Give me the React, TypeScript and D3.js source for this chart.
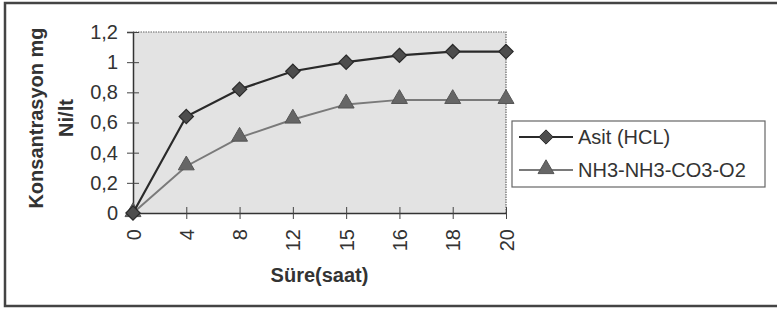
import React, { useRef, useEffect } from "react";
import * as d3 from "d3";

// Süre (saat) categories and the two series
const hours = ["0", "4", "8", "12", "15", "16", "18", "20"];
const asitValues = [0, 0.64, 0.82, 0.94, 1.0, 1.045, 1.07, 1.07];
const nh3Values = [0, 0.31, 0.5, 0.62, 0.72, 0.75, 0.75, 0.75];
const yTicks = [0, 0.2, 0.4, 0.6, 0.8, 1, 1.2];
const seriesNames = ["Asit (HCL)", "NH3-NH3-CO3-O2"];

const W = 777;
const H = 310;
const plot = { left: 133, right: 506, top: 32, bottom: 213 };
const font = "'Liberation Sans', Arial, sans-serif";

const App = () => {
  const svgRef = useRef<SVGSVGElement>(null);

  useEffect(() => {
    const svg = d3.select(svgRef.current);
    svg.selectAll("*").remove();

    const x = d3.scalePoint().domain(hours).range([plot.left, plot.right]);
    const y = d3.scaleLinear().domain([0, 1.2]).range([plot.bottom, plot.top]);

    // outer frame (right side runs off the picture)
    svg
      .append("rect")
      .attr("x", 5)
      .attr("y", 3)
      .attr("width", 800)
      .attr("height", 303)
      .attr("fill", "#fff")
      .attr("stroke", "#444")
      .attr("stroke-width", 2.5);

    // plot area
    svg
      .append("rect")
      .attr("x", plot.left)
      .attr("y", plot.top)
      .attr("width", plot.right - plot.left)
      .attr("height", plot.bottom - plot.top)
      .attr("fill", "#e3e3e3");

    svg
      .append("path")
      .attr("d", `M${plot.left},${plot.top}H${plot.right}V${plot.bottom}`)
      .attr("fill", "none")
      .attr("stroke", "#666")
      .attr("stroke-width", 1.2)
      .attr("stroke-dasharray", "1.5,1");

    // y axis
    const yAxis = d3
      .axisLeft(y)
      .tickValues(yTicks)
      .tickSize(6)
      .tickPadding(9)
      .tickFormat((d) => d3.format("~g")(d as number).replace(".", ","));
    const gy = svg
      .append("g")
      .attr("transform", `translate(${plot.left},0)`)
      .call(yAxis);
    gy.select(".domain").attr("stroke", "#333").attr("stroke-width", 1.5);
    gy.selectAll(".tick line").attr("x1", 6).attr("stroke", "#444");
    gy.selectAll(".tick text")
      .attr("font-family", font)
      .attr("font-size", 20)
      .attr("fill", "#333");

    // x axis, labels turned on their side
    const xAxis = d3.axisBottom(x).tickSize(6).tickSizeOuter(0);
    const gx = svg
      .append("g")
      .attr("transform", `translate(0,${plot.bottom})`)
      .call(xAxis);
    gx.select(".domain").attr("stroke", "#333").attr("stroke-width", 1.5);
    gx.selectAll(".tick line").attr("y1", -6).attr("stroke", "#444");
    gx.selectAll(".tick text")
      .attr("transform", "rotate(-90)")
      .attr("text-anchor", "end")
      .attr("x", -16)
      .attr("y", 0)
      .attr("dy", "0.35em")
      .attr("font-family", font)
      .attr("font-size", 20)
      .attr("fill", "#333");

    // axis titles
    svg
      .append("text")
      .attr("x", (plot.left + plot.right) / 2)
      .attr("y", 282)
      .attr("text-anchor", "middle")
      .attr("font-family", font)
      .attr("font-size", 20)
      .attr("font-weight", "bold")
      .attr("fill", "#333")
      .text("Süre(saat)");

    const yTitle = svg
      .append("text")
      .attr("transform", "translate(43,118) rotate(-90)")
      .attr("text-anchor", "middle")
      .attr("font-family", font)
      .attr("font-size", 20)
      .attr("font-weight", "bold")
      .attr("fill", "#333");
    yTitle.append("tspan").attr("x", 0).attr("y", 0).text("Konsantrasyon mg");
    yTitle.append("tspan").attr("x", 0).attr("y", 30).text("Ni/lt");

    const line = d3
      .line<number>()
      .x((d, i) => x(hours[i]) as number)
      .y((d) => y(d));

    const diamond = d3.symbol().type(d3.symbolDiamond2).size(130);
    const triangle = d3.symbol().type(d3.symbolTriangle).size(110);

    // NH3 series
    svg
      .append("path")
      .datum(nh3Values)
      .attr("d", line)
      .attr("fill", "none")
      .attr("stroke", "#7a7a7a")
      .attr("stroke-width", 2);
    svg
      .append("g")
      .selectAll("path")
      .data(nh3Values)
      .enter()
      .append("path")
      .attr("d", triangle)
      .attr("transform", (d, i) => `translate(${x(hours[i])},${y(d) - 1})`)
      .attr("fill", "#666")
      .attr("stroke", "#555")
      .attr("stroke-width", 1);

    // Asit series
    svg
      .append("path")
      .datum(asitValues)
      .attr("d", line)
      .attr("fill", "none")
      .attr("stroke", "#2a2a2a")
      .attr("stroke-width", 2.2);
    svg
      .append("g")
      .selectAll("path")
      .data(asitValues)
      .enter()
      .append("path")
      .attr("d", diamond)
      .attr("transform", (d, i) => `translate(${x(hours[i])},${y(d)})`)
      .attr("fill", "#4d4d4d")
      .attr("stroke", "#2a2a2a")
      .attr("stroke-width", 1.2);

    // legend
    const lg = svg.append("g").attr("transform", "translate(512,121)");
    lg.append("rect")
      .attr("width", 253)
      .attr("height", 66)
      .attr("fill", "#fff")
      .attr("stroke", "#666")
      .attr("stroke-width", 1.2);
    seriesNames.forEach((name, i) => {
      const cy = 16 + i * 33;
      const row = lg.append("g").attr("transform", `translate(0,${cy})`);
      row
        .append("line")
        .attr("x1", 7)
        .attr("x2", 61)
        .attr("stroke", i === 0 ? "#2a2a2a" : "#7a7a7a")
        .attr("stroke-width", i === 0 ? 2.2 : 2);
      row
        .append("path")
        .attr("d", i === 0 ? diamond : triangle)
        .attr("transform", `translate(34,${i === 0 ? 0 : -1})`)
        .attr("fill", i === 0 ? "#4d4d4d" : "#666")
        .attr("stroke", i === 0 ? "#2a2a2a" : "#555");
      row
        .append("text")
        .attr("x", 66)
        .attr("dy", "0.35em")
        .attr("font-family", font)
        .attr("font-size", 20)
        .attr("fill", "#333")
        .text(name);
    });
  }, []);

  return (
    <div style={{ position: "fixed", left: 0, top: 0, width: W, height: H, overflow: "hidden", background: "#fff" }}>
      <svg ref={svgRef} width={W} height={H} style={{ display: "block" }} />
    </div>
  );
};

export default App;
